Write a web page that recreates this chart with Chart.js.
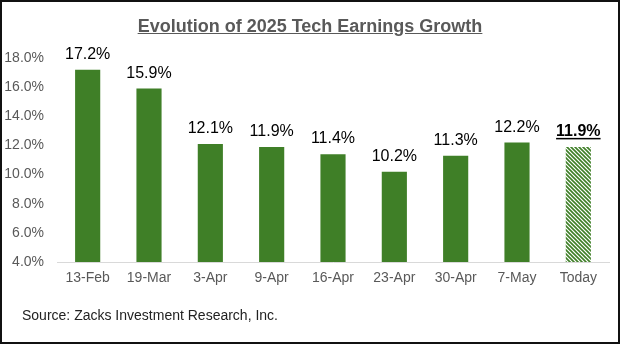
<!DOCTYPE html>
<html>
<head>
<meta charset="utf-8">
<script src="https://cdn.jsdelivr.net/npm/chart.js@4.4.1/dist/chart.umd.min.js"></script>
<style>
  html, body { margin: 0; padding: 0; background: #fff; }
  #wrap { position: relative; width: 620px; height: 344px; box-sizing: border-box;
          border: 2px solid #111; overflow: hidden; }
  #chart { position: absolute; left: -2px; top: -2px; }
  #title { position: absolute; left: 0; width: 616px; top: 14px; text-align: center;
           font: bold 18px "Liberation Sans", Arial, sans-serif; color: #595959;
           text-decoration: underline; }
  #source { position: absolute; left: 20px; top: 305px;
            font: 14px "Liberation Sans", Arial, sans-serif; color: #222; }
</style>
</head>
<body>
<div id="wrap">
  <canvas id="chart" width="620" height="344"></canvas>
  <div id="title">Evolution of 2025 Tech Earnings Growth</div>
  <div id="source">Source: Zacks Investment Research, Inc.</div>
</div>
<script>
var categories = ['13-Feb', '19-Mar', '3-Apr', '9-Apr', '16-Apr', '23-Apr', '30-Apr', '7-May', 'Today'];
var growth = [17.2, 15.9, 12.1, 11.9, 11.4, 10.2, 11.3, 12.2, 11.9];
var yTicks = [4, 6, 8, 10, 12, 14, 16, 18];

var green = '#3f7f27';

// diagonal stripes for the "Today" bar
function hatch() {
	var c = document.createElement('canvas');
	c.width = 4; c.height = 4;
	var g = c.getContext('2d');
	g.fillStyle = '#fff';
	g.fillRect(0, 0, 4, 4);
	g.strokeStyle = green;
	g.lineWidth = 1.6;
	g.beginPath();
	g.moveTo(-2, -2); g.lineTo(6, 6);
	g.moveTo(-2, 2); g.lineTo(2, 6);
	g.moveTo(2, -2); g.lineTo(6, 2);
	g.stroke();
	return g.createPattern(c, 'repeat');
}

var barColors = growth.map(function (v, i) {
	return i === growth.length - 1 ? hatch() : green;
});

var valueLabels = {
	id: 'valueLabels',
	afterDatasetsDraw: function (chart) {
		var ctx = chart.ctx;
		var meta = chart.getDatasetMeta(0);
		ctx.save();
		ctx.textAlign = 'center';
		ctx.textBaseline = 'alphabetic';
		ctx.fillStyle = '#000';
		meta.data.forEach(function (bar, i) {
			var last = i === growth.length - 1;
			var txt = growth[i].toFixed(1) + '%';
			ctx.font = (last ? 'bold ' : '') + '16px "Liberation Sans", Arial, sans-serif';
			var y = bar.y - 11;
			ctx.fillText(txt, bar.x, y);
			if (last) {
				var w = ctx.measureText(txt).width;
				ctx.fillRect(bar.x - w / 2, y + 2, w, 1.5);
			}
		});
		ctx.restore();
	}
};

new Chart(document.getElementById('chart'), {
	type: 'bar',
	data: {
		labels: categories,
		datasets: [{
			data: growth,
			backgroundColor: barColors,
			borderColor: green,
			borderWidth: 0,
			barPercentage: 0.41,
			categoryPercentage: 1.0
		}]
	},
	options: {
		responsive: false,
		animation: false,
		layout: { padding: { top: 58, right: 11, bottom: 47, left: 0 } },
		plugins: { legend: { display: false }, title: { display: false }, tooltip: { enabled: false } },
		scales: {
			x: {
				grid: { display: false, drawTicks: false },
				border: { display: true, color: '#d9d9d9', width: 1 },
				ticks: { color: '#595959', padding: 8, maxRotation: 0,
					font: { family: '"Liberation Sans", Arial, sans-serif', size: 14 } },
				afterFit: function (s) { s.height = 35; }
			},
			y: {
				min: 4, max: 18,
				grid: { display: false, drawTicks: false },
				border: { display: false },
				afterBuildTicks: function (s) { s.ticks = yTicks.map(function (v) { return { value: v }; }); },
				ticks: { color: '#595959', padding: 13,
					font: { family: '"Liberation Sans", Arial, sans-serif', size: 14 },
					callback: function (v) { return v.toFixed(1) + '%'; } },
				afterFit: function (s) { s.width = 57; }
			}
		}
	},
	plugins: [valueLabels]
});
</script>
</body>
</html>
